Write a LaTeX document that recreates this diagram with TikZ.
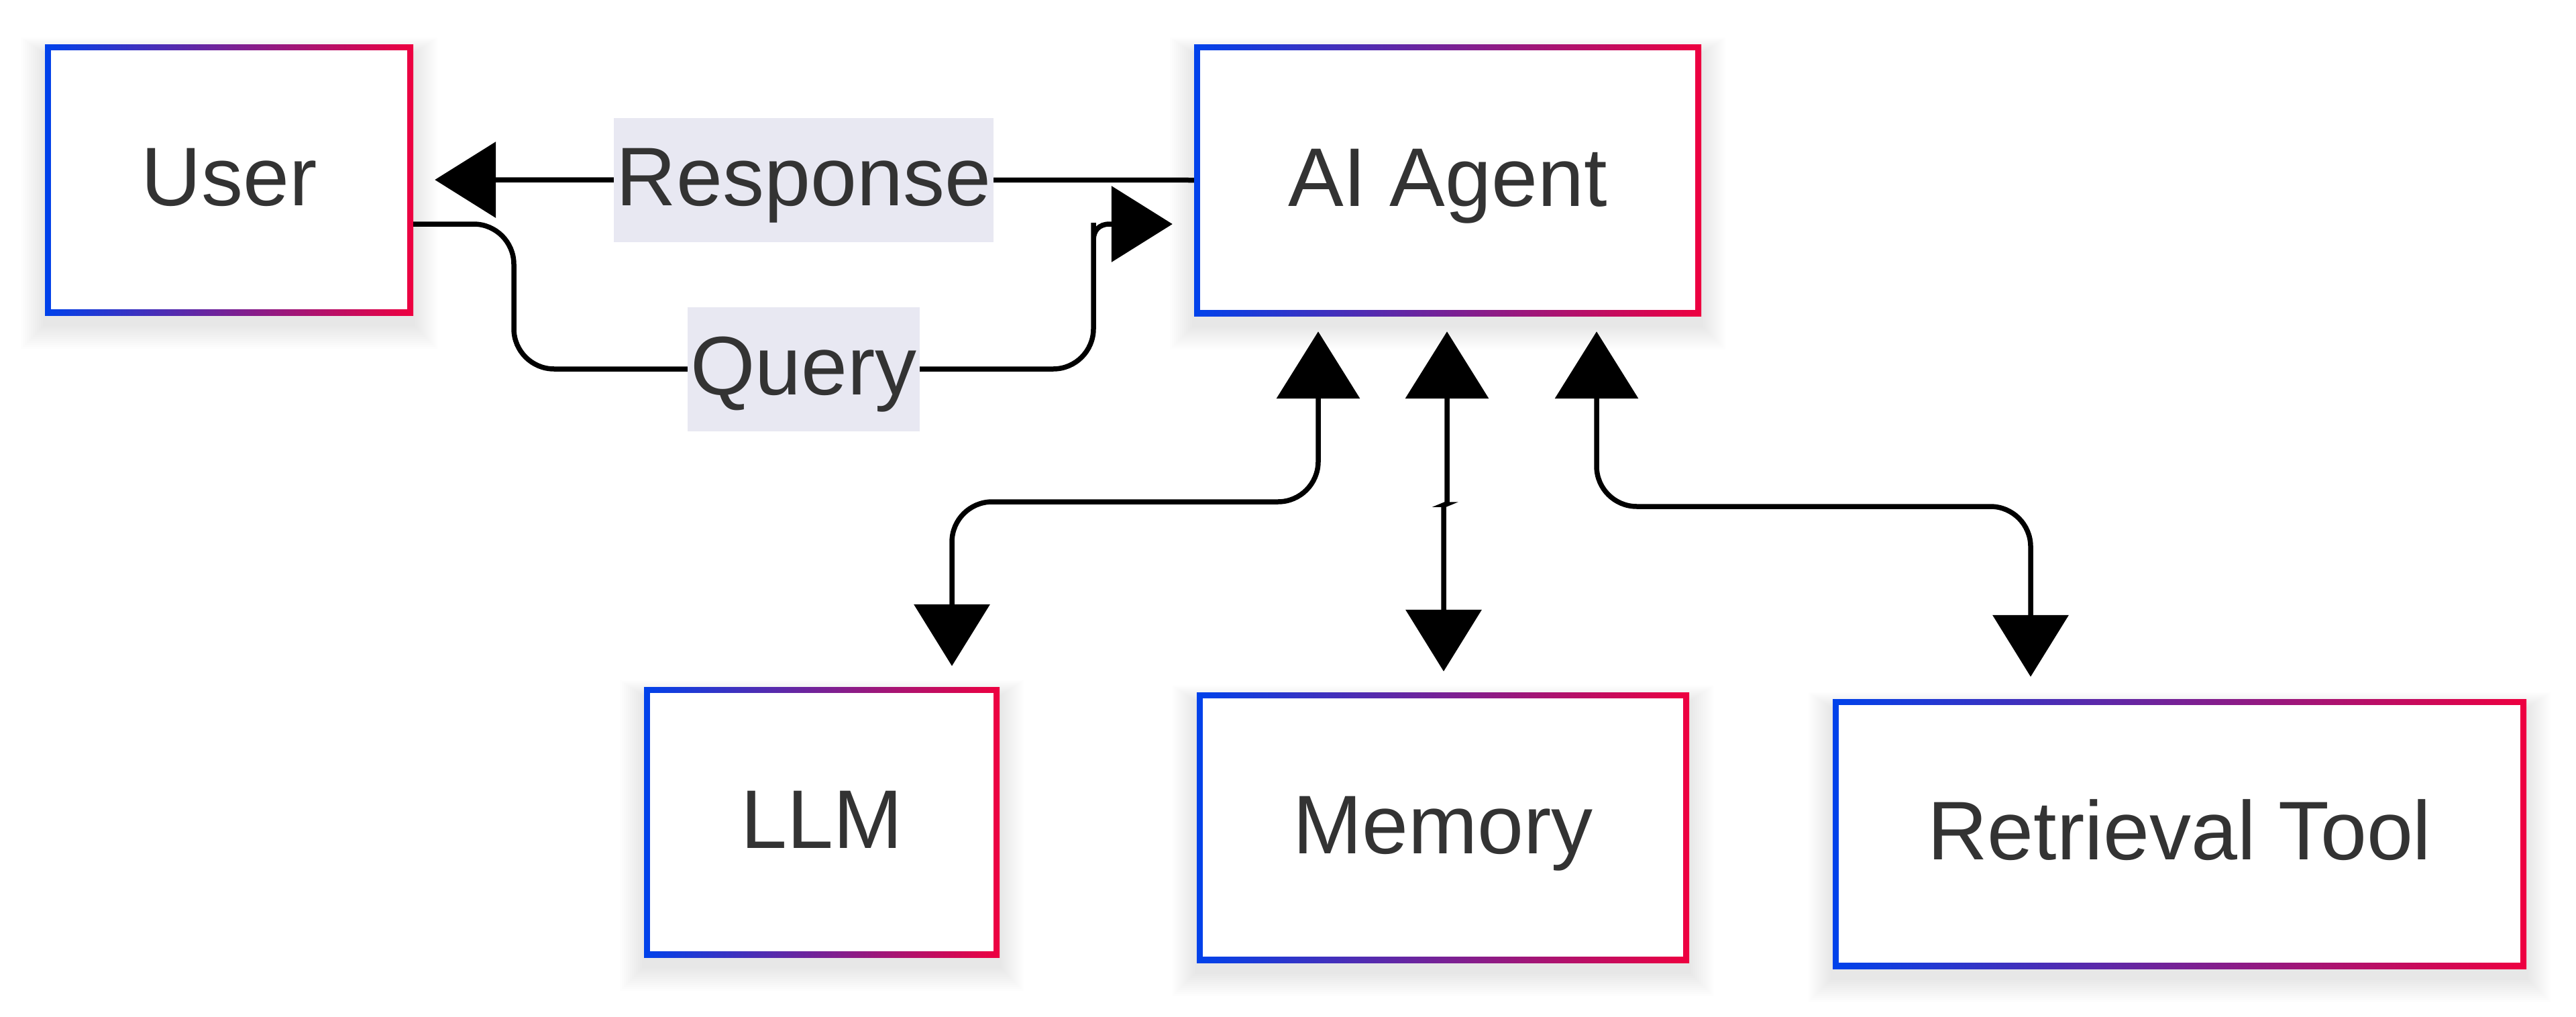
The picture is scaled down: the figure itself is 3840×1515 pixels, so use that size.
\documentclass[tikz,border=0pt]{standalone}
\usepackage{fontspec}
\setmainfont{Liberation Sans}
\usetikzlibrary{arrows.meta,backgrounds}
\definecolor{gblue}{RGB}{0,66,235}
\definecolor{gred}{RGB}{238,0,64}
\definecolor{txt}{RGB}{51,51,51}
\definecolor{lblbg}{RGB}{232,232,242}
\begin{document}
\begin{tikzpicture}[x=1pt,y=-1pt,
  font=\fontsize{124}{150}\selectfont, text=txt,
  gbox/.style={rectangle, inner sep=0pt, text height=131pt, text depth=54pt,
    path picture={
      \shade[left color=gblue,right color=gred] (path picture bounding box.south west) rectangle (path picture bounding box.north east);
      \fill[white] ([shift={(9pt,-9pt)}]path picture bounding box.north west) rectangle ([shift={(-9pt,9pt)}]path picture bounding box.south east);
    }},
  lbl/.style={rectangle, sharp corners, fill=lblbg, inner xsep=4pt, inner ysep=0pt, text height=131pt, text depth=54pt},
  conn/.style={line width=7.5pt, draw=black},
  upt/.tip={Triangle[length=100pt,width=123pt]},
  dnt/.tip={Triangle[length=92pt,width=112pt]},
  hzt/.tip={Triangle[length=91pt,width=112pt]}
]
\useasboundingbox (0,0) rectangle (3840,1515);

\node[gbox, minimum width=549pt, minimum height=404pt] (user) at (341.5,268) {User};
\node[gbox, minimum width=756pt, minimum height=405pt] (agent) at (2158,268.5) {AI Agent};
\node[gbox, minimum width=530pt, minimum height=403pt] (llm) at (1225,1225.5) {LLM};
\node[gbox, minimum width=734pt, minimum height=403pt] (mem) at (2151,1233.5) {Memory};
\node[gbox, minimum width=1034pt, minimum height=402pt] (ret) at (3249,1243) {Retrieval Tool};

\begin{pgfonlayer}{background}
\foreach \n in {user,agent,llm,mem,ret}{
  \foreach \k in {1,...,12}{
    \fill[black,opacity=0.007] ([shift={(-\k*3pt,-14pt-\k*3pt)}]\n.south west) rectangle ([shift={(\k*3pt,-14pt+\k*2pt)}]\n.north east);
  }
}
\end{pgfonlayer}

% Response
\draw[conn,-hzt] (agent.west) -- ([xshift=32pt]user.east)
  node[lbl,pos=0.514] (resp) {Response};

% Query
\draw[conn,-hzt] ([yshift=-66pt]user.east) [rounded corners=60pt] -- (766,334) -- (766,550)
  -- node[lbl,pos=0.5] (qry) {Query} (1630,550) -- (1630,392) [sharp corners] -- (1630,358)
  .. controls (1630,344) and (1638,334) .. (1654,334) -- ([shift={(-32pt,-65.5pt)}]agent.west);

% LLM
\draw[conn,upt-dnt,rounded corners=60pt] ([shift={(-193pt,-23pt)}]agent.south) -- (1965,748) -- (1419,748) -- ([shift={(194pt,31pt)}]llm.north);

% Memory
\draw[conn,upt-dnt,rounded corners=3pt] ([shift={(-1pt,-23pt)}]agent.south) -- (2157,752) -- (2152,752) -- ([shift={(1pt,31pt)}]mem.north);

% Retrieval Tool
\draw[conn,upt-dnt,rounded corners=60pt] ([shift={(222pt,-23pt)}]agent.south) -- (2380,755) -- (3027,755) -- ([shift={(-222pt,33pt)}]ret.north);
\end{tikzpicture}
\end{document}
